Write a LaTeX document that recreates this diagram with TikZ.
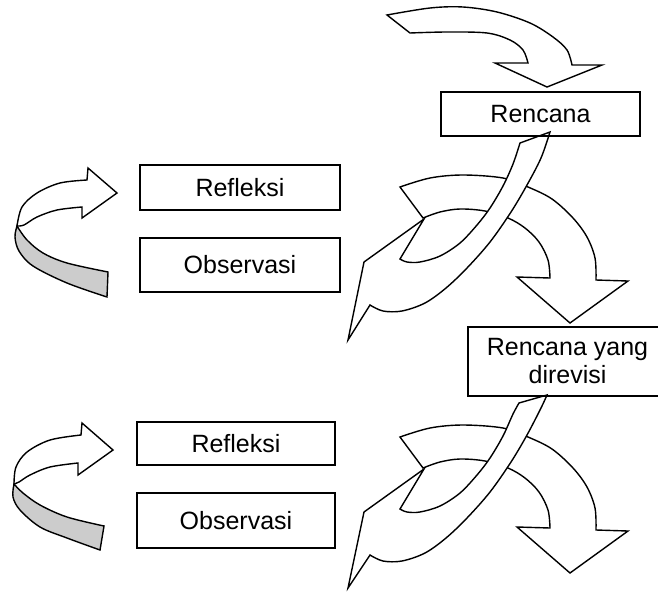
\documentclass[tikz,border=0pt]{standalone}
\usepackage{fontspec}
\setmainfont{Liberation Sans}
\begin{document}
\begin{tikzpicture}[x=1pt,y=-1pt,
  blk/.style={draw=black, line width=1.4pt, fill=white, line join=miter},
  rib/.style={draw=black, line width=1.4pt, fill=black!20},
  box/.style={draw=black, line width=1.6pt, inner sep=0pt, align=center,
    font=\fontsize{25}{28}\selectfont},
  sm/.style={smooth, tension=0.55}]
\useasboundingbox (0,0) rectangle (658,592);
\clip (0,0) rectangle (658,592);

% ---- top arrow into "Rencana"
\draw[blk] (387,15) -- plot[sm] coordinates {(387,15) (430,8) (463,7) (497,12) (530,23) (553,37) (567,50) (572,65)}
  -- (602,65) -- (547,87) -- (495,63) -- (528,63)
  -- plot[sm] coordinates {(528,63) (523,50) (510,40) (487,33) (447,32) (410,33)} -- cycle;

% ---- right/down arrows (two copies)
\foreach \dy in {0,250}{
\begin{scope}[yshift=-\dy pt]
\draw[blk] (400,187) -- plot[sm] coordinates {(400,187) (430,178) (463,175) (503,178) (528,187) (552,199) (573,218) (587,237) (595,258) (596,280)}
  -- (628,281) -- (570,323) -- (517,277) -- (550,278)
  -- plot[sm] coordinates {(550,278) (548,260) (539,242) (525,228) (508,218) (485,211) (460,209) (440,212) (423,218)} -- cycle;
\end{scope}}

% ---- swoosh 1 (from Rencana down-left)
\draw[blk] (520,143) -- (550,132)
  -- plot[sm] coordinates {(550,132) (541,158) (527,185) (511,212) (490,242) (467,268) (446,288) (425,303) (402,311) (383,311) (370,305)}
  -- (348,340) -- (364,262) -- (424,219) -- (400,259)
  -- plot[sm] coordinates {(400,259) (407,262) (420,262) (440,256) (460,243) (477,225) (490,208) (503,186) (513,164) (520,143)} -- cycle;

% ---- swoosh 2 (from Rencana yang direvisi)
\begin{scope}[yshift=-250pt]
\draw[blk] (519,153) -- (547,145)
  -- plot[sm] coordinates {(547,145) (541,158) (527,185) (511,212) (490,242) (467,268) (446,288) (425,303) (402,311) (383,311) (370,305)}
  -- (348,338) -- (364,262) -- (424,219) -- (400,259)
  -- plot[sm] coordinates {(400,259) (407,262) (420,262) (440,256) (460,243) (477,225) (490,208) (503,186) (513,164) (519,153)} -- cycle;
\end{scope}

% ---- left ribbon arrow 1
\draw[blk] (87,180) -- plot[sm] coordinates {(87,180) (60,183) (37,193) (22,207) (17,226)}
  -- plot[sm] coordinates {(17,226) (24,225) (37,217) (57,210) (82,207)}
  -- (82,218) -- (117,193) -- (88,168) -- cycle;
\draw[rib] (17,226) -- plot[sm] coordinates {(17,226) (15,237) (19,251) (33,266) (67,283) (107,297)}
  -- (108,272) -- plot[sm] coordinates {(108,272) (67,263) (43,253) (27,240) (17,226)} -- cycle;

% ---- left ribbon arrow 2
\draw[blk] (81,435) -- plot[sm] coordinates {(81,435) (50,440) (27,452) (16,467) (14,484)}
  -- plot[sm] coordinates {(14,484) (19,482) (30,475) (50,467) (78,463)}
  -- (78,475) -- (113,450) -- (82,423) -- cycle;
\draw[rib] (14,484) -- plot[sm] coordinates {(14,484) (13,497) (20,510) (40,527) (67,538) (100,550)}
  -- (104,526) -- plot[sm] coordinates {(104,526) (67,517) (40,505) (23,493) (14,484)} -- cycle;

% ---- boxes
\node[box, minimum width=199pt, minimum height=44pt] (rencana) at (540.5,114) {Rencana};
\node[box, minimum width=200pt, minimum height=45pt] (refl1) at (240,187.5) {Refleksi};
\node[box, minimum width=200pt, minimum height=54pt] (obs1) at (240,265) {Observasi};
\node[box, minimum width=199pt, minimum height=69pt] (revisi) at (567.5,361.5) {Rencana yang\\direvisi};
\node[box, minimum width=198pt, minimum height=43pt] (refl2) at (236,443.5) {Refleksi};
\node[box, minimum width=198pt, minimum height=55pt] (obs2) at (236,520.5) {Observasi};
\end{tikzpicture}
\end{document}
